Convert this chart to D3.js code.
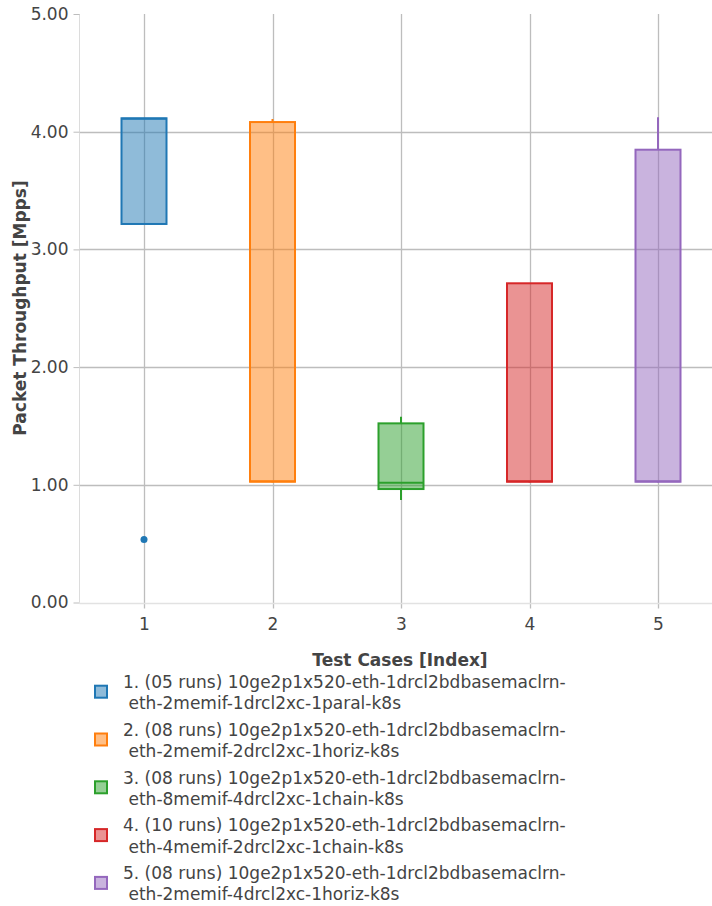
<!DOCTYPE html>
<html>
<head>
<meta charset="utf-8">
<script src="https://cdn.jsdelivr.net/npm/d3@7"></script>
<style>
  html, body { margin: 0; padding: 0; background: #fff; }
  svg { display: block; font-family: "DejaVu Sans", sans-serif; }
</style>
</head>
<body>
<svg id="chart" width="712" height="906"></svg>
<script>
// ---- data ----
const categories = [1, 2, 3, 4, 5];
const runs = ["05", "08", "08", "10", "08"];
const names = [
  ["10ge2p1x520-eth-1drcl2bdbasemaclrn-", "eth-2memif-1drcl2xc-1paral-k8s"],
  ["10ge2p1x520-eth-1drcl2bdbasemaclrn-", "eth-2memif-2drcl2xc-1horiz-k8s"],
  ["10ge2p1x520-eth-1drcl2bdbasemaclrn-", "eth-8memif-4drcl2xc-1chain-k8s"],
  ["10ge2p1x520-eth-1drcl2bdbasemaclrn-", "eth-4memif-2drcl2xc-1chain-k8s"],
  ["10ge2p1x520-eth-1drcl2bdbasemaclrn-", "eth-2memif-4drcl2xc-1horiz-k8s"]
];
const lowerWhisker = [3.216, 1.02, 0.871, 1.02, 1.02];
const q1 = [3.216, 1.026, 0.964, 1.026, 1.026];
const median = [4.11, 1.03, 1.018, 1.03, 1.03];
const q3 = [4.114, 4.082, 1.522, 2.712, 3.847];
const upperWhisker = [4.114, 4.108, 1.579, 2.712, 4.122];
const outliers = [[0.535], [], [], [], []];
const colors = ["#1f77b4", "#ff7f0e", "#2ca02c", "#d62728", "#9467bd"];
const yTicks = [0, 1, 2, 3, 4, 5];

// ---- layout ----
const svg = d3.select("#chart");
const FS = 17;
const plotLeft = 79.5, plotTop = 14, plotBottom = 602.5;
const x = d3.scaleLinear().domain([0.5, 5.5]).range([79.75, 722.25]);
const y = d3.scaleLinear().domain([0, 5]).range([plotBottom, plotTop]);
const boxW = 45;
const textColor = "#444";
const gridColor = "#bdbdbd";

// grid lines
const g = svg.append("g");
g.selectAll(".hgrid").data(yTicks.filter(d => d > 0 && d < 5)).join("line")
  .attr("x1", plotLeft).attr("x2", 712)
  .attr("y1", d => Math.round(y(d)) + 0.5).attr("y2", d => Math.round(y(d)) + 0.5)
  .attr("stroke", gridColor).attr("stroke-width", 1.3);
g.selectAll(".vgrid").data(categories).join("line")
  .attr("x1", d => Math.round(x(d)) + 0.5).attr("x2", d => Math.round(x(d)) + 0.5)
  .attr("y1", plotTop).attr("y2", plotBottom + 6)
  .attr("stroke", gridColor).attr("stroke-width", 1.3);

// axis lines
g.append("line").attr("x1", plotLeft).attr("x2", 712)
  .attr("y1", Math.round(plotBottom) + 0.5).attr("y2", Math.round(plotBottom) + 0.5)
  .attr("stroke", "#e2e2e2").attr("stroke-width", 1.5);
g.append("line").attr("x1", plotLeft).attr("x2", plotLeft)
  .attr("y1", plotTop).attr("y2", plotBottom)
  .attr("stroke", "#dcdcdc").attr("stroke-width", 1);

// y axis via d3
const yAxis = d3.axisLeft(y).tickValues(yTicks).tickFormat(d3.format(".2f")).tickSize(6).tickPadding(5);
const ya = svg.append("g").attr("transform", `translate(${plotLeft},0)`).call(yAxis);
ya.select(".domain").remove();
ya.selectAll(".tick line").attr("stroke", gridColor);
ya.selectAll(".tick text").attr("fill", textColor).attr("font-size", FS)
  .attr("font-family", "DejaVu Sans, sans-serif");

// x axis via d3
const xAxis = d3.axisBottom(x).tickValues(categories).tickFormat(d3.format("d")).tickSize(0).tickPadding(15);
const xa = svg.append("g").attr("transform", `translate(0,${plotBottom})`).call(xAxis);
xa.select(".domain").remove();
xa.selectAll(".tick text").attr("fill", textColor).attr("font-size", FS)
  .attr("font-family", "DejaVu Sans, sans-serif");

// axis titles
svg.append("text").attr("x", 400).attr("y", 666).attr("text-anchor", "middle")
  .attr("font-size", FS).attr("font-weight", "bold").attr("fill", textColor)
  .text("Test Cases [Index]");
svg.append("text").attr("transform", `translate(26,${308}) rotate(-90)`).attr("text-anchor", "middle")
  .attr("font-size", FS).attr("font-weight", "bold").attr("fill", textColor)
  .text("Packet Throughput [Mpps]");

// boxes
const data = categories.map((c, i) => ({c, i, lw: lowerWhisker[i], q1: q1[i], med: median[i], q3: q3[i], uw: upperWhisker[i], out: outliers[i], color: colors[i]}));
const bg = svg.append("g");
data.forEach(d => {
  const cx = x(d.c);
  const gg = bg.append("g");
  gg.append("line").attr("x1", cx).attr("x2", cx).attr("y1", y(d.q3)).attr("y2", y(d.uw))
    .attr("stroke", d.color).attr("stroke-width", 2);
  gg.append("line").attr("x1", cx).attr("x2", cx).attr("y1", y(d.q1)).attr("y2", y(d.lw))
    .attr("stroke", d.color).attr("stroke-width", 2);
  gg.append("rect").attr("x", cx - boxW / 2).attr("width", boxW)
    .attr("y", y(d.q3)).attr("height", y(d.q1) - y(d.q3))
    .attr("fill", d.color).attr("fill-opacity", 0.5)
    .attr("stroke", d.color).attr("stroke-width", 2);
  gg.append("line").attr("x1", cx - boxW / 2).attr("x2", cx + boxW / 2)
    .attr("y1", y(d.med)).attr("y2", y(d.med))
    .attr("stroke", d.color).attr("stroke-width", 2);
  gg.selectAll("circle").data(d.out).join("circle")
    .attr("cx", cx).attr("cy", v => y(v)).attr("r", 3.5).attr("fill", d.color);
});

// legend
const lg = svg.append("g");
data.forEach((d, i) => {
  const top = 681.7 + i * 47.8;
  const item = lg.append("g");
  item.append("rect").attr("x", 95).attr("y", top + 4).attr("width", 12).attr("height", 12)
    .attr("fill", d.color).attr("fill-opacity", 0.5)
    .attr("stroke", d.color).attr("stroke-width", 2);
  item.append("text").attr("x", 123).attr("y", top + 6.2).attr("font-size", FS).attr("fill", textColor)
    .text(`${d.c}. (${runs[i]} runs) ${names[i][0]}`);
  item.append("text").attr("x", 128.5).attr("y", top + 27.5).attr("font-size", FS).attr("fill", textColor)
    .text(names[i][1]);
});
</script>
</body>
</html>
